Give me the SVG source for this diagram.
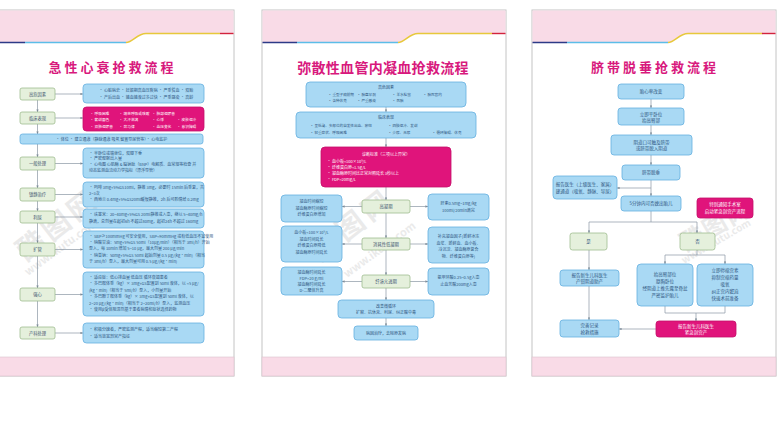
<svg xmlns="http://www.w3.org/2000/svg" width="777" height="436" viewBox="0 0 777 436">
<defs>
<marker id="ah" viewBox="0 0 6 6" refX="5.5" refY="3" markerWidth="4" markerHeight="4" orient="auto"><path d="M0,0.5 L6,3 L0,5.5z" fill="#7d8b98"/></marker>
<style>
.pn{fill:#fff;stroke:#c4c4c4;stroke-width:1}
.hd{fill:#f9dbe7}
.ft{fill:#f9dbe7;stroke:#d9c3cc;stroke-width:.6}
.bb{fill:#a9d9f4;stroke:#66b0df;stroke-width:.8}
.gb{fill:#e5f0dc;stroke:#9fbc8f;stroke-width:.8}
.mb{fill:#e0147b;stroke:#c40f69;stroke-width:.8}
.ln{fill:none;stroke:#8a96a3;stroke-width:.7}
.ar{fill:none;stroke:#8a96a3;stroke-width:.7;marker-end:url(#ah)}
text{font-family:"Noto Sans CJK SC","Noto Sans",sans-serif}
.ti{fill:#d8197d;font-weight:bold;text-anchor:middle}
.lb{font-size:4.3px;fill:#3f5670;text-anchor:middle}
.t{font-size:4px;fill:#2f5580}
.ts{font-size:3.6px;fill:#2f5580}
.tc{font-size:4px;fill:#2f5580;text-anchor:middle}
.tw{font-size:3.7px;fill:#fff}
.tw2{font-size:4px;fill:#fff}
.twc{font-size:4px;fill:#fff;text-anchor:middle}
.t3{font-size:4.5px;fill:#2f5580;text-anchor:middle}
.t3w{font-size:4.5px;fill:#fff;text-anchor:middle}
.wm{fill:#d2d2d2;opacity:.45;font-weight:bold}
.c1{stroke:#2c3a87;stroke-width:1.4;fill:none}
.c2{stroke:#5cbde8;stroke-width:1.4;fill:none}
.c3{stroke:#e7c83b;stroke-width:1.4;fill:none}
.c4{stroke:#d2233d;stroke-width:1.4;fill:none}
</style>
</defs>
<rect width="777" height="436" fill="#fff"/>

<!-- Panel frames -->
<g id="panel1-frame">
<rect class="pn" x="-10" y="10" width="244" height="366"/>
<path class="hd" d="M-10,10.5 H233.5 V33.5 H146 C137,33.5 133,42.5 126,42.5 H-10 Z"/>
<path class="c1" d="M-10,42.5 H25"/><path class="c2" d="M25,42.5 H126"/>
<path class="c3" d="M126,42.5 C133,42.5 137,33.5 146,33.5 H220"/><path class="c4" d="M220,33.5 H233.5"/>
<rect class="ft" x="-10" y="357" width="244" height="19"/>
<text class="ti" x="112.5" y="72" font-size="13" letter-spacing="3">急性心衰抢救流程</text>
</g>
<g id="panel2-frame">
<rect class="pn" x="262" y="10" width="244" height="366"/>
<path class="hd" d="M262.5,10.5 H505.5 V33.5 H418 C409,33.5 405,42.5 398,42.5 H262.5 Z"/>
<path class="c1" d="M262.5,42.5 H297"/><path class="c2" d="M297,42.5 H398"/>
<path class="c3" d="M398,42.5 C405,42.5 409,33.5 418,33.5 H492"/><path class="c4" d="M492,33.5 H505.5"/>
<rect class="ft" x="262" y="357" width="244" height="19"/>
<text class="ti" x="383" y="73" font-size="14" letter-spacing="0.3">弥散性血管内凝血抢救流程</text>
</g>
<g id="panel3-frame">
<rect class="pn" x="532" y="10" width="244" height="366"/>
<path class="hd" d="M532.5,10.5 H775.5 V33.5 H688 C679,33.5 675,42.5 668,42.5 H532.5 Z"/>
<path class="c1" d="M532.5,42.5 H567"/><path class="c2" d="M567,42.5 H668"/>
<path class="c3" d="M668,42.5 C675,42.5 679,33.5 688,33.5 H762"/><path class="c4" d="M762,33.5 H775.5"/>
<rect class="ft" x="532" y="357" width="244" height="19"/>
<text class="ti" x="655" y="72" font-size="13" letter-spacing="3">脐带脱垂抢救流程</text>
</g>

<!-- Watermarks -->
<g id="watermarks">
<text class="wm" font-size="28" transform="translate(26,262) rotate(-38)" letter-spacing="4">酷图网</text>
<text class="wm" font-size="11" transform="translate(28,276) rotate(-36)">www.ikutu.com</text>
<text class="wm" font-size="28" transform="translate(320,262) rotate(-38)" letter-spacing="4">酷图网</text>
<text class="wm" font-size="11" transform="translate(347,278) rotate(-36)">www.ikutu.com</text>
<text class="wm" font-size="24" transform="translate(686,252) rotate(-30)" letter-spacing="2">酷图网</text>
<text class="wm" font-size="10" transform="translate(684,264) rotate(-30)">www.ikutu.com</text>
</g>

<!-- Connectors -->
<g id="connectors">
<path class="ar" d="M37.5,100 V112"/>
<path class="ar" d="M37.5,124 V134"/>
<path class="ar" d="M37.5,144 V157"/>
<path class="ar" d="M37.5,170 V188"/>
<path class="ar" d="M37.5,201 V211"/>
<path class="ar" d="M37.5,223 V243"/>
<path class="ar" d="M37.5,256 V288"/>
<path class="ar" d="M37.5,301 V327"/>
<path class="ar" d="M55,94 H83"/>
<path class="ar" d="M55,118 H83"/>
<path class="ar" d="M55,163.5 H83"/>
<path class="ar" d="M55,194.5 H83"/>
<path class="ar" d="M55,217 H83"/>
<path class="ar" d="M55,249.5 H83"/>
<path class="ar" d="M55,294.5 H83"/>
<path class="ar" d="M55,333 H83"/>

<path class="ar" d="M386,107 V112"/>
<path class="ar" d="M386,138 V147"/>
<path class="ar" d="M386,187 V200"/>
<path class="ar" d="M386,213 V238"/>
<path class="ar" d="M386,250 V275"/>
<path class="ar" d="M386,288 V300"/>
<path class="ar" d="M386,318 V326"/>
<path class="ar" d="M362,206.5 H342"/>
<path class="ar" d="M410,206.5 H428"/>
<path class="ar" d="M362,244 H342"/>
<path class="ar" d="M410,244 H428"/>
<path class="ar" d="M362,281.5 H342"/>
<path class="ar" d="M410,281.5 H428"/>

<path class="ar" d="M651,99 V108"/>
<path class="ar" d="M651,125 V135"/>
<path class="ar" d="M651,155 V165"/>
<path class="ar" d="M651,180 V196"/>
<path class="ar" d="M651,188 H617"/>
<path class="ln" d="M651,211 V222 M589,222 H697"/>
<path class="ar" d="M589,222 V233"/>
<path class="ar" d="M697,222 V233"/>
<path class="ar" d="M589,250 V270"/>
<path class="ar" d="M589,286 V320"/>
<path class="ln" d="M697,250 V255 M665,255 H725"/>
<path class="ar" d="M665,255 V264"/>
<path class="ar" d="M725,255 V264"/>
<path class="ln" d="M665,306 V313 M725,306 V313 M665,313 H725"/>
<path class="ar" d="M696,313 V321"/>
<path class="ar" d="M656,329 H619"/>
</g>

<!-- Panel 1 nodes -->
<g id="p1-high-risk"><rect class="gb" x="20" y="88" width="35" height="12" rx="2"/><text class="lb" x="37.5" y="95.5">高危因素</text></g>
<g id="p1-high-risk-detail"><rect class="bb" x="83" y="84" width="121" height="19" rx="3.5"/>
<text class="t" x="99" y="92">· 心脏病史 · 妊娠期高血压疾病 · 严重贫血 · 双胎</text>
<text class="t" x="99" y="98.5">· 产后出血 · 输血输液过多过快 · 严重感染 · 高龄</text></g>
<g id="p1-clinical"><rect class="gb" x="20" y="112" width="35" height="12" rx="2"/><text class="lb" x="37.5" y="119.5">临床表现</text></g>
<g id="p1-clinical-detail"><rect class="mb" x="83" y="107" width="121" height="24" rx="3.5"/>
<text class="tw" x="90" y="114.5">· 呼吸困难</text><text class="tw" x="119" y="114.5">· 端坐呼吸或咳嗽</text><text class="tw" x="152" y="114.5">· 肺部湿啰音</text>
<text class="tw" x="90" y="121">· 紫绀面色</text><text class="tw" x="119" y="121">· 大汗淋漓</text><text class="tw" x="152" y="121">· 心悸</text><text class="tw" x="177" y="121">· 皮肤湿冷</text>
<text class="tw" x="90" y="127.5">· 双肺湿啰音</text><text class="tw" x="119" y="127.5">· 奔马律</text><text class="tw" x="152" y="127.5">· 血压变化</text><text class="tw" x="177" y="127.5">· 意识障碍</text></g>
<g id="p1-rescue"><rect class="bb" x="20" y="134" width="183" height="10" rx="2.5"/>
<text class="tc" x="111.5" y="140.5">· 体位 · 建立通道（静脉通道 吸氧 留置导尿管等）· 心电监护</text></g>
<g id="p1-general"><rect class="gb" x="20" y="157" width="35" height="13" rx="2"/><text class="lb" x="37.5" y="165">一般处理</text></g>
<g id="p1-general-detail"><rect class="bb" x="83" y="148" width="121" height="30" rx="3.5"/>
<text class="t" x="89" y="154.5">· 半卧位或端坐位，双腿下垂</text>
<text class="t" x="89" y="160.2">· 严密观察出入量</text>
<text class="t" x="89" y="166">· 心电图 心肌酶 &amp; 脑钠肽（BNP）电解质、血常规等检查 并</text>
<text class="t" x="89" y="171.7">  动态监测血流动力学指标（漂浮导管）</text></g>
<g id="p1-sedation"><rect class="gb" x="20" y="188" width="35" height="13" rx="2"/><text class="lb" x="37.5" y="196">镇静治疗</text></g>
<g id="p1-sedation-detail"><rect class="bb" x="83" y="182" width="121" height="25" rx="3.5"/>
<text class="t" x="89" y="189">· 吗啡 3mg+5%GS10ml，静推 3mg，必要时 15min 后重复，共</text>
<text class="t" x="89" y="195">  2~3次</text>
<text class="t" x="89" y="201">· 西地兰 0.4mg+5%GS20ml缓慢静推，2h 后可酌情给 0.2mg</text></g>
<g id="p1-diuresis"><rect class="gb" x="20" y="211" width="35" height="12" rx="2"/><text class="lb" x="37.5" y="218.5">利尿</text></g>
<g id="p1-diuresis-detail"><rect class="bb" x="83" y="209" width="121" height="19" rx="3.5"/>
<text class="t" x="89" y="216">· 呋塞米：20~40mg+5%GS 20ml静推或入壶，继以 5~40mg/h</text>
<text class="t" x="89" y="222.5">  静滴，总剂量在起初6h 不超过80mg，起初24h 不超过 160mg</text></g>
<g id="p1-vasodilator"><rect class="gb" x="20" y="243" width="35" height="13" rx="2"/><text class="lb" x="37.5" y="251">扩管</text></g>
<g id="p1-vasodilator-detail"><rect class="bb" x="83" y="231" width="121" height="37" rx="3.5"/>
<text class="t" x="89" y="238">· SBP≥100mmHg 可安全使用，SBP&lt;90mmHg 或有低血压不宜使用</text>
<text class="t" x="89" y="244">· 硝酸甘油：5mg+5%GS 50ml（10μg/min）（相当于 3ml/h）开始</text>
<text class="t" x="89" y="250">  泵入，每 10min 增加 5~10 μg，最大剂量 200 μg/min</text>
<text class="t" x="89" y="256.5">· 硝普钠：50mg+5%GS 50ml 起始剂量 0.5 μg/(kg·min)（相当</text>
<text class="t" x="89" y="262.5">  于 3ml/h）泵入，最大剂量可用 0.5 μg/(kg·min)</text></g>
<g id="p1-inotropic"><rect class="gb" x="20" y="288" width="35" height="13" rx="2"/><text class="lb" x="37.5" y="296">强心</text></g>
<g id="p1-inotropic-detail"><rect class="bb" x="83" y="272" width="121" height="44" rx="3.5"/>
<text class="t" x="89" y="278.5">· 适应症：低心排血量 低血压 循环衰竭患者</text>
<text class="t" x="89" y="285">· 多巴胺体重（kg）× 3mg+GS配置到 50ml 液体，以 &lt;5 μg/</text>
<text class="t" x="89" y="291.5">  (kg·min)（相当于 5ml/h）泵入，小剂量开始</text>
<text class="t" x="89" y="298">· 多巴酚丁胺体重（kg）× 3mg+GS配置到 50ml 液体，以</text>
<text class="t" x="89" y="304.5">  2~20 μg/(kg·min)（相当于 2~20ml/h）泵入，监测血压</text>
<text class="t" x="89" y="311">· 使用β受体阻滞剂基于患者病情和症状选择药物</text></g>
<g id="p1-obstetric"><rect class="gb" x="20" y="327" width="35" height="12" rx="2"/><text class="lb" x="37.5" y="334.5">产科处理</text></g>
<g id="p1-obstetric-detail"><rect class="bb" x="83" y="323" width="121" height="20" rx="3.5"/>
<text class="t" x="89" y="331">· 积极分娩者，严密监测产程，适当缩短第二产程</text>
<text class="t" x="89" y="337.5">· 适当放宽剖宫产指征</text></g>

<!-- Panel 2 nodes -->
<g id="p2-high-risk"><rect class="bb" x="306" y="82" width="160" height="25" rx="4"/>
<text class="tc" x="386" y="89">高危因素</text>
<text class="ts" x="328" y="96">· 重型子痫前期</text><text class="ts" x="357" y="96">· 胎盘早剥</text><text class="ts" x="392" y="96">· 羊水栓塞</text><text class="ts" x="423" y="96">· 胎死宫内</text>
<text class="ts" x="328" y="102">· 各种休克</text><text class="ts" x="357" y="102">· 严重感染</text><text class="ts" x="392" y="102">· 死胎</text></g>
<g id="p2-clinical"><rect class="bb" x="296" y="112" width="180" height="26" rx="4"/>
<text class="tc" x="386" y="119">临床表现</text>
<text class="ts" x="310" y="127">· 呈低凝、多部位的自发性出血、瘀斑</text><text class="ts" x="388" y="127">· 四肢湿冷、发绀</text>
<text class="ts" x="310" y="133.5">· 轻重症状、呼吸困难</text><text class="ts" x="388" y="133.5">· 少尿、无尿</text><text class="ts" x="432" y="133.5">· 循环障碍、休克</text></g>
<g id="p2-diagnosis"><rect class="mb" x="321" y="147" width="130" height="40" rx="4"/>
<text class="twc" x="386" y="156">诊断标准（三项以上异常）</text>
<text class="tw2" x="327" y="163">· 血小板&lt;100×10⁹/L</text>
<text class="tw2" x="327" y="169">· 纤维蛋白原&lt;1.5g/L</text>
<text class="tw2" x="327" y="175">· 凝血酶原时间比正常对照延长 3秒以上</text>
<text class="tw2" x="327" y="181">· FDP&gt;20mg/L</text></g>
<g id="p2-hyper"><rect class="gb" x="362" y="200" width="48" height="13" rx="2"/><text class="lb" x="386" y="208">高凝期</text></g>
<g id="p2-hyper-left"><rect class="bb" x="281" y="195" width="61" height="27" rx="4"/>
<text class="tc" x="311.5" y="203">凝血时间缩短</text><text class="tc" x="311.5" y="209.5">凝血酶原时间缩短</text><text class="tc" x="311.5" y="216">纤维蛋白原增加</text></g>
<g id="p2-hyper-right"><rect class="bb" x="428" y="194" width="61" height="26" rx="4"/>
<text class="tc" x="458.5" y="205">肝素0.5mg~1mg/kg</text><text class="tc" x="458.5" y="211.5">100ml/20min滴完</text></g>
<g id="p2-consump"><rect class="gb" x="362" y="238" width="48" height="12" rx="2"/><text class="lb" x="386" y="245.5">消耗性低凝期</text></g>
<g id="p2-consump-left"><rect class="bb" x="281" y="226" width="61" height="36" rx="4"/>
<text class="tc" x="311.5" y="234">血小板&lt;100×10⁹/L</text><text class="tc" x="311.5" y="240.5">凝血时间延长</text><text class="tc" x="311.5" y="247">纤维蛋白原降低</text><text class="tc" x="311.5" y="253.5">凝血酶原时间延长</text></g>
<g id="p2-consump-right"><rect class="bb" x="428" y="227" width="61" height="36" rx="4"/>
<text class="tc" x="458.5" y="238">补充凝血因子(新鲜冰冻</text><text class="tc" x="458.5" y="244.5">血浆、新鲜血、血小板、</text><text class="tc" x="458.5" y="251">冷沉淀、凝血酶原复合</text><text class="tc" x="458.5" y="257.5">物、纤维蛋白原等)</text></g>
<g id="p2-fibrinolysis"><rect class="gb" x="362" y="275" width="48" height="13" rx="2"/><text class="lb" x="386" y="283">纤溶亢进期</text></g>
<g id="p2-fib-left"><rect class="bb" x="281" y="267" width="61" height="28" rx="4"/>
<text class="tc" x="311.5" y="273.5">凝血酶时间延长</text><text class="tc" x="311.5" y="279.5">FDP&gt;20 g/ml</text><text class="tc" x="311.5" y="285.5">凝血酶时间延长</text><text class="tc" x="311.5" y="291.5">D-二聚体升高</text></g>
<g id="p2-fib-right"><rect class="bb" x="428" y="268" width="61" height="27" rx="4"/>
<text class="tc" x="458.5" y="279">氨甲环酸0.25~0.5g入壶</text><text class="tc" x="458.5" y="286">止血芳酸200mg入壶</text></g>
<g id="p2-microcirc"><rect class="bb" x="338" y="300" width="96" height="18" rx="3.5"/>
<text class="tc" x="386" y="307.5">改善微循环</text><text class="tc" x="386" y="314">扩容、抗休克、利尿、纠正酸中毒</text></g>
<g id="p2-cause"><rect class="bb" x="354" y="326" width="64" height="14" rx="3"/>
<text class="tc" x="386" y="334.5">病因治疗，去除原发病</text></g>

<!-- Panel 3 nodes -->
<g id="p3-fhr"><rect class="bb" x="618" y="84" width="66" height="15" rx="3"/><text class="t3" x="651" y="93">胎心率改变</text></g>
<g id="p3-position"><rect class="bb" x="618" y="108" width="66" height="17" rx="3"/><text class="t3" x="651" y="115.5">立即平卧位</text><text class="t3" x="651" y="121.5">抬高臀部</text></g>
<g id="p3-vagina"><rect class="bb" x="611" y="135" width="81" height="20" rx="3"/><text class="t3" x="651.5" y="143.5">阴道口可触及脐带</text><text class="t3" x="651.5" y="150">或脐带脱入阴道</text></g>
<g id="p3-prolapse"><rect class="bb" x="622" y="165" width="58" height="15" rx="3"/><text class="t3" x="651" y="174">脐带脱垂</text></g>
<g id="p3-report"><rect class="bb" x="553" y="176" width="64" height="23" rx="3.5"/>
<text class="t3" x="585" y="185.5">报告医生（上级医生、家属）</text><text class="t3" x="585" y="192.5">建通道（吸氧、静脉、导尿）</text></g>
<g id="p3-5min"><rect class="bb" x="621" y="196" width="60" height="15" rx="3"/><text class="t3" x="651" y="205">5分钟内可否娩出胎儿</text></g>
<g id="p3-or"><rect class="mb" x="697" y="198" width="56" height="20" rx="3"/><text class="t3w" x="725" y="206">特别通知手术室</text><text class="t3w" x="725" y="213">启动紧急剖宫产流程</text></g>
<g id="p3-yes"><rect class="gb" x="570" y="233" width="37" height="17" rx="2.5"/><text class="t3" x="588.5" y="243">是</text></g>
<g id="p3-no"><rect class="gb" x="680" y="233" width="35" height="17" rx="2.5"/><text class="t3" x="697.5" y="243">否</text></g>
<g id="p3-forceps"><rect class="bb" x="560" y="270" width="59" height="16" rx="3"/><text class="t3" x="589.5" y="276.5">报告新生儿科医生</text><text class="t3" x="589.5" y="282.5">产钳阴道助产</text></g>
<g id="p3-pushup"><rect class="bb" x="637" y="264" width="56" height="42" rx="4"/>
<text class="t3" x="665" y="276">抬高臀部位</text><text class="t3" x="665" y="283">膝胸卧位</text><text class="t3" x="665" y="290">经阴道上推先露至骨盆</text><text class="t3" x="665" y="297">严密监护胎儿</text></g>
<g id="p3-prep"><rect class="bb" x="697" y="264" width="56" height="42" rx="4"/>
<text class="t3" x="725" y="272">立即停缩宫素</text><text class="t3" x="725" y="279">抑制宫缩药量</text><text class="t3" x="725" y="286">吸氧</text><text class="t3" x="725" y="293">纠正宫内窘迫</text><text class="t3" x="725" y="300">快速术前准备</text></g>
<g id="p3-cesarean"><rect class="mb" x="656" y="321" width="80" height="16" rx="3"/><text class="t3w" x="696" y="327.5">报告新生儿科医生</text><text class="t3w" x="696" y="333.5">紧急剖宫产</text></g>
<g id="p3-record"><rect class="bb" x="560" y="320" width="59" height="17" rx="3"/><text class="t3" x="589.5" y="327">完善记录</text><text class="t3" x="589.5" y="333.5">抢救措施</text></g>
</svg>
